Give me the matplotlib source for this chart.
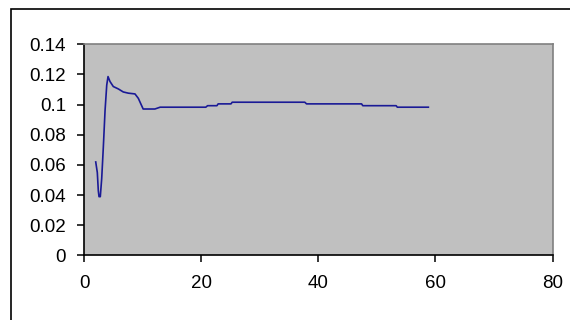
import matplotlib.pyplot as plt
import matplotlib.patches as patches

x_vals = [2.0, 2.27, 2.44, 2.56, 2.78, 3.02, 3.3, 3.59, 3.88, 4.1, 4.44, 5.0,
          5.86, 6.7, 7.57, 8.7, 9.27, 10.1, 12.1, 13.0, 20.8, 21.1, 22.7, 22.9,
          25.1, 25.3, 37.7, 38.0, 47.4, 47.6, 53.3, 53.5, 58.8]
y_vals = [0.062, 0.055, 0.043, 0.039, 0.039, 0.051, 0.072, 0.096, 0.113, 0.1186,
          0.1153, 0.112, 0.1104, 0.1084, 0.1076, 0.1071, 0.1042, 0.0971, 0.0971,
          0.0983, 0.0983, 0.0993, 0.0993, 0.1005, 0.1005, 0.1016, 0.1016, 0.1005,
          0.1005, 0.0993, 0.0993, 0.0983, 0.0983]
x_ticks = [0, 20, 40, 60, 80]
y_ticks = [0, 0.02, 0.04, 0.06, 0.08, 0.1, 0.12, 0.14]
y_labels = ['0', '0.02', '0.04', '0.06', '0.08', '0.1', '0.12', '0.14']

plt.rcParams['font.family'] = ['Liberation Sans', 'DejaVu Sans']

fig = plt.figure(figsize=(5.7, 3.2), dpi=100)
ax = fig.add_axes([0.1474, 0.2016, 0.8219, 0.66])
ax.set_facecolor('#c0c0c0')

ax.plot(x_vals, y_vals, color='#1a1a96', lw=1.2)

ax.set_xlim(0, 80)
ax.set_ylim(0, 0.14)
ax.set_xticks(x_ticks)
ax.set_yticks(y_ticks)
ax.set_yticklabels(y_labels)
ax.tick_params(direction='out', length=5, width=1.1, labelsize=13.5, colors='black')
ax.tick_params(axis='x', pad=9)
ax.tick_params(axis='y', pad=8)

for side in ['left', 'bottom']:
    ax.spines[side].set_color('black')
    ax.spines[side].set_linewidth(1.2)
for side in ['top', 'right']:
    ax.spines[side].set_color('#808080')
    ax.spines[side].set_linewidth(1.2)

# outer chart border, runs off the right and bottom edge
fig.patches.append(patches.Rectangle((0.0193, -0.1), 1.2, 0.1 + 0.971,
                                     transform=fig.transFigure, fill=False,
                                     edgecolor='black', lw=1.2, clip_on=False))

fig.savefig('out.png')
